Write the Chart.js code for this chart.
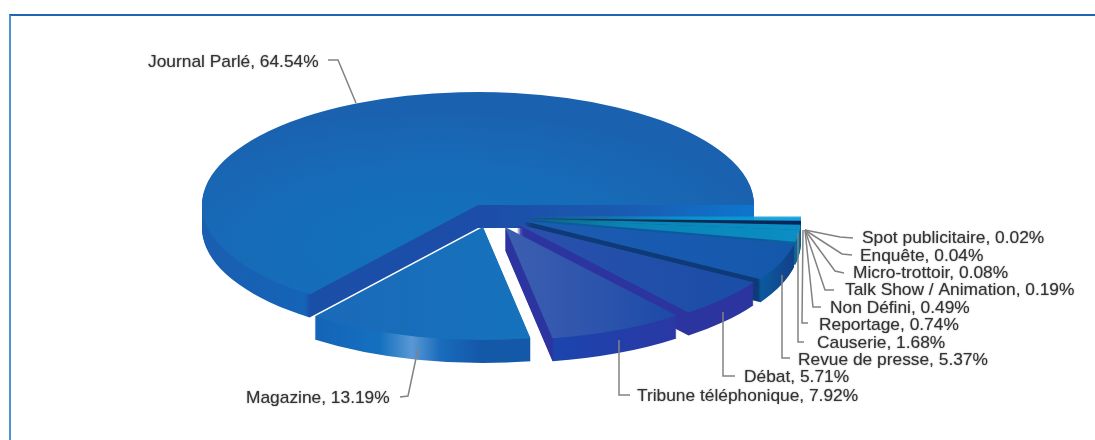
<!DOCTYPE html>
<html>
<head>
<meta charset="utf-8">
<style>
  html, body { margin: 0; padding: 0; background: #fff; }
  #wrap { position: relative; width: 1095px; height: 440px; overflow: hidden; }
  #frame { position: absolute; left: 9px; top: 14px; width: 1086px; height: 426px; border-top: 2px solid #1f66b3; border-left: 2px solid #4a94d4; box-sizing: border-box; }
  #pieChart { position: absolute; left: 0; top: 0; }
</style>
<script src="https://cdn.jsdelivr.net/npm/chart.js@4/dist/chart.umd.min.js"></script>
</head>
<body>
<div id="wrap">
  <div id="frame"></div>
  <canvas id="pieChart" width="1095" height="440"></canvas>
</div>
<script>
// Share of airtime by programme type, clockwise from the right hand side
const categories = ['Spot publicitaire', 'Enquête', 'Micro-trottoir', 'Talk Show / Animation', 'Non Défini', 'Reportage', 'Causerie', 'Revue de presse', 'Débat', 'Tribune téléphonique', 'Magazine', 'Journal Parlé'];
const shares = [0.02, 0.04, 0.08, 0.19, 0.49, 0.74, 1.68, 5.37, 5.71, 7.92, 13.19, 64.54];

// Flat fill colours, the plugin below lays the shading over them
const baseColors = ['#0a9bd8', '#0a9bd8', '#0a9bd8', '#0a9bd8', '#082a5e', '#0a8ac0', '#0a8ac0', '#1458ac', '#1a4ea6', '#2a50aa', '#1670bc', '#1866b4'];

// Horizontal shading of the top faces, as [page x, colour] stops
const teal = [[530, '#0a6a70'], [620, '#0a84b4'], [800, '#0a8ec4']];
const cyan = [[530, '#0a7078'], [640, '#0a92c8'], [800, '#0aa0dc']];
const navy = [[530, '#0a3a50'], [800, '#07245a']];
const topShades = [cyan, cyan, cyan, cyan, navy, teal, teal,
  [[525, '#1c5cb2'], [790, '#1458ac']],
  [[520, '#2a50ac'], [750, '#1a4ea6']],
  [[508, '#3c5eb0'], [600, '#2c54ac'], [676, '#1c4aa8']],
  [[316, '#1a6ab8'], [530, '#1672bc']],
  null];

// Horizontal shading of the sides
const sliver = [[760, '#0b5a9e'], [803, '#0a6a9a']];
const sideShades = [cyan, cyan, cyan, cyan, navy, sliver, sliver,
  [[525, '#0e3a78'], [758, '#0e3a78'], [761, '#0b5a9e'], [795, '#133f88']],
  [[517, '#2c34a0'], [753, '#2c34a0']],
  [[505, '#2c34a0'], [552, '#2c34a0'], [554, '#1b45ad'], [676, '#2a38a5']],
  [[316, '#1464b8'], [380, '#1570c0'], [412, '#5a98d4'], [440, '#1a6cbc'], [480, '#1458a8'], [530, '#1458a8']],
  [[202, '#1a5eb0'], [305, '#1464b8'], [310, '#1a4fa8'], [480, '#1c4da8'], [620, '#1a5ab0'], [745, '#0f74cc']]];

// Where each slice sits once exploded (pixels of the page)
const sliceCentres = [[525, 216.5], [525, 216.5], [525, 216.5], [525, 216.5], [525, 218.5], [525, 219], [525, 219], [524, 221], [517, 224], [505, 227], [483, 227], [478, 205]];
const radiusX = 276;
const radiusY = 113;
const depth = 23;

// Label anchor and leader line for each category
const labelSpots = [[862, 238], [860, 256], [853, 273], [845, 290], [830, 308], [819, 325], [817, 343], [798, 360], [744, 377], [637, 396], [246, 398], [148, 62]];
const leaders = [
  [[805, 230], [840, 237], [853, 238]],
  [[805, 230], [842, 254], [852, 255]],
  [[805, 230], [835, 271], [844, 273]],
  [[805, 230], [825, 290], [834, 290]],
  [[805, 230], [813, 307], [821, 307]],
  [[803, 230], [802, 323], [808, 323]],
  [[798, 233], [798, 342], [804, 342]],
  [[782, 275], [782, 358], [790, 358]],
  [[723, 312], [723, 376], [735, 376]],
  [[619, 340], [619, 395], [630, 395]],
  [[418, 349], [408, 396], [400, 397]],
  [[356, 103], [338, 60], [328, 60]]
];

function placeSlice(ctx, arc, i, drop) {
  const c = sliceCentres[i];
  ctx.translate(c[0], c[1] + drop);
  ctx.scale(radiusX / arc.outerRadius, radiusY / arc.outerRadius);
  ctx.translate(-arc.x, -arc.y);
}

// Gradient running along page x, built in the arc's own coordinates
function shade(ctx, arc, i, stops) {
  const toArc = x => arc.x + (x - sliceCentres[i][0]) * arc.outerRadius / radiusX;
  const x0 = stops[0][0];
  const x1 = stops[stops.length - 1][0];
  const g = ctx.createLinearGradient(toArc(x0), 0, toArc(x1), 0);
  stops.forEach(s => g.addColorStop((s[0] - x0) / (x1 - x0), s[1]));
  return g;
}

// Top of the big slice is lighter towards the front
function mainTop(ctx, arc) {
  const k = arc.outerRadius / radiusX;
  const g = ctx.createRadialGradient(arc.x - 40 * k, arc.y + 100 * k, 0, arc.x - 40 * k, arc.y + 100 * k, 330 * k);
  g.addColorStop(0, '#1272bc');
  g.addColorStop(0.55, '#166cb8');
  g.addColorStop(1, '#1a62b0');
  return g;
}

const explodedPie = {
  id: 'explodedPie',
  beforeDatasetDraw(chart) {
    const ctx = chart.ctx;
    const arcs = chart.getDatasetMeta(0).data;
    // Main slice goes first, the rest run back to front
    const order = [11, 0, 1, 2, 3, 4, 5, 6, 7, 8, 9, 10];
    order.forEach(i => {
      const arc = arcs[i];
      arc.options.backgroundColor = shade(ctx, arc, i, sideShades[i]);
      for (let k = depth; k > 0; k--) {
        ctx.save();
        placeSlice(ctx, arc, i, k);
        arc.draw(ctx);
        ctx.restore();
      }
      arc.options.backgroundColor = topShades[i] ? shade(ctx, arc, i, topShades[i]) : mainTop(ctx, arc);
      ctx.save();
      placeSlice(ctx, arc, i, 0);
      arc.draw(ctx);
      ctx.restore();
    });
    return false;
  },
  afterDraw(chart) {
    const ctx = chart.ctx;
    ctx.save();
    ctx.strokeStyle = '#828282';
    ctx.lineWidth = 1.5;
    leaders.forEach(line => {
      ctx.beginPath();
      line.forEach((p, n) => n ? ctx.lineTo(p[0], p[1]) : ctx.moveTo(p[0], p[1]));
      ctx.stroke();
    });
    ctx.fillStyle = '#333';
    ctx.shadowColor = 'rgba(60,60,60,0.6)';
    ctx.shadowBlur = 1.5;
    ctx.font = '17.35px "Liberation Sans"';
    ctx.textBaseline = 'middle';
    categories.forEach((name, i) => {
      ctx.fillText(`${name}, ${shares[i].toFixed(2)}%`, labelSpots[i][0], labelSpots[i][1]);
    });
    ctx.restore();
  }
};

new Chart(document.getElementById('pieChart'), {
  type: 'pie',
  data: {
    labels: categories,
    datasets: [{ data: shares, backgroundColor: baseColors, borderWidth: 0 }]
  },
  options: {
    responsive: false,
    animation: false,
    rotation: 90,
    plugins: { legend: { display: false }, tooltip: { enabled: false } }
  },
  plugins: [explodedPie]
});
</script>
</body>
</html>
